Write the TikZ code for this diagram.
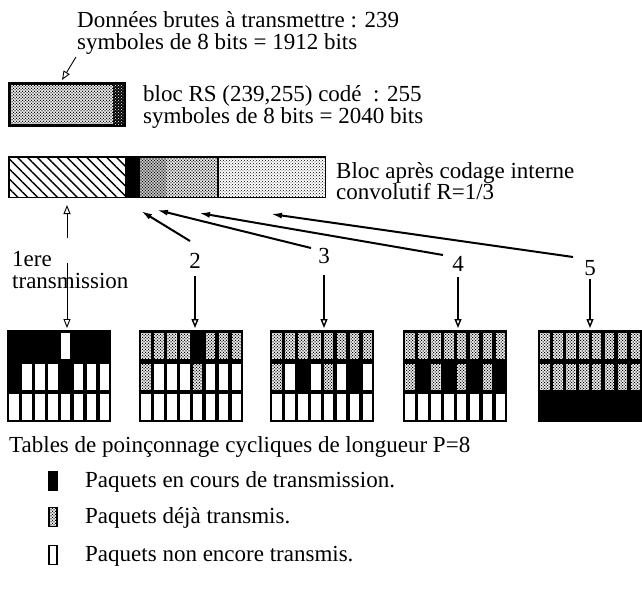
\documentclass[tikz,border=0pt]{standalone}
\usepackage{fontspec}
\setmainfont{Liberation Serif}
\usetikzlibrary{patterns,patterns.meta,arrows.meta}
\pgfdeclarepatternformonly{dotsL}{\pgfqpoint{-1pt}{-1pt}}{\pgfqpoint{3pt}{3pt}}{\pgfqpoint{3pt}{3pt}}{%
  \pgfpathcircle{\pgfqpoint{0pt}{0pt}}{0.5pt}\pgfpathcircle{\pgfqpoint{1.5pt}{1.5pt}}{0.5pt}\pgfusepath{fill}}
\pgfdeclarepatternformonly{dotsM}{\pgfqpoint{-1pt}{-1pt}}{\pgfqpoint{3pt}{3pt}}{\pgfqpoint{3pt}{3pt}}{%
  \pgfpathcircle{\pgfqpoint{0pt}{0pt}}{0.75pt}\pgfpathcircle{\pgfqpoint{1.5pt}{1.5pt}}{0.75pt}\pgfusepath{fill}}
\pgfdeclarepatternformonly{dotsD}{\pgfqpoint{-1pt}{-1pt}}{\pgfqpoint{3pt}{3pt}}{\pgfqpoint{3pt}{3pt}}{%
  \pgfpathcircle{\pgfqpoint{0pt}{0pt}}{0.95pt}\pgfpathcircle{\pgfqpoint{1.5pt}{1.5pt}}{0.95pt}\pgfusepath{fill}}
\newcommand{\prow}[2]{%
  \foreach \cv [count=\ci from 0] in {#2} {%
    \pgfmathsetmacro\xa{2.3+\ci*12.9}%
    \pgfmathsetmacro\ya{3+#1*30.5}%
    \ifnum\cv=1 \fill[white] (\xa,\ya) rectangle ++(9.5,26);\fi
    \ifnum\cv=2 \fill[white] (\xa,\ya) rectangle ++(9.5,26);
      \fill[pattern=dotsM] (\xa,\ya) rectangle ++(9.5,26);\fi
  }}
\newcommand{\pgrid}[5]{%
  \node[gridbox] (#1) at (#2,330) {};
  \begin{scope}[shift={(#1.north west)}]
    \prow{0}{#3}\prow{1}{#4}\prow{2}{#5}
  \end{scope}}
\begin{document}
\begin{tikzpicture}[x=1pt,y=-1pt,
  txt/.style={font=\fontsize{23}{22}\selectfont, inner sep=0pt, anchor=base west},
  lbl/.style={font=\fontsize{23}{22}\selectfont, inner sep=0pt, anchor=base},
  gridbox/.style={draw=none, fill=black, minimum width=104pt, minimum height=92pt, inner sep=0pt, anchor=north west},
  diag/.style={line width=2pt, -{Latex[length=11pt,width=6pt]}},
  downarr/.style={line width=1.4pt, -{Triangle[open,length=9pt,width=7pt]}},
  thinarr/.style={line width=0.9pt, -{Triangle[open,length=9pt,width=7pt]}},
  keybox/.style={draw, line width=1.6pt, minimum width=8pt, minimum height=19pt, inner sep=0pt},
  ]
\useasboundingbox (0,0) rectangle (642,615);
\fill[white] (0,0) rectangle (642,615);

% texts
\node[txt] (d1) at (77,28) {Données brutes à transmettre : 239};
\node[txt] (d2) at (77,50) {symboles de 8 bits = 1912 bits};
\node[txt] (r1) at (143,102) {bloc RS (239,255) codé~ : 255};
\node[txt] (r2) at (143,124) {symboles de 8 bits = 2040 bits};
\node[txt] (c1) at (336,178) {Bloc après codage interne};
\node[txt] (c2) at (336,199) {convolutif R=1/3};
\node[txt] (e1) at (12,266) {1ere};
\node[txt] (e2) at (12,288) {transmission};
\node[lbl] (n2) at (195,268) {2};
\node[lbl] (n3) at (324,263) {3};
\node[lbl] (n4) at (458,271) {4};
\node[lbl] (n5) at (590,275) {5};
\node[txt] (tab) at (9,452) {Tables de poinçonnage cycliques de longueur P=8};
\node[txt] (k1t) at (85,487) {Paquets en cours de transmission.};
\node[txt] (k2t) at (85,523) {Paquets déjà transmis.};
\node[txt] (k3t) at (85,561) {Paquets non encore transmis.};

% block 1 (RS)
\node[draw, line width=1.8pt, minimum width=114pt, minimum height=41pt, inner sep=0pt,
      anchor=north west, pattern=dotsM] (b1) at (9,83) {};
\fill[black] ([xshift=-12pt]b1.north east) rectangle (b1.south east);
\fill[pattern=dotsL, pattern color=white] ([xshift=-12pt]b1.north east) rectangle (b1.south east);
\draw[line width=1.8pt] (b1.north west) rectangle (b1.south east);

% block 2 (convolutional)
\node[minimum width=316pt, minimum height=40pt, inner sep=0pt, anchor=north west] (b2) at (9,157) {};
\begin{scope}[shift={(b2.north west)}]
  \fill[pattern={Lines[angle=-45,distance=7pt,line width=1.4pt]}] (0,0) rectangle (117,40);
  \fill[black] (117,0) rectangle (131,40);
  \fill[pattern=dotsD] (131,0) rectangle (157,40);
  \fill[pattern=dotsM] (157,0) rectangle (209,40);
  \fill[pattern=dotsL] (209,0) rectangle (316,40);
  \draw[line width=1.2pt] (117,0) -- (117,40) (209,0) -- (209,40);
\end{scope}
\draw[line width=1.8pt] (b2.north west) rectangle (b2.south east);

% puncturing tables
\pgrid{g1}{7}{0,0,0,0,1,0,0,0}{0,1,1,1,0,1,1,1}{1,1,1,1,1,1,1,1}
\pgrid{g2}{139}{2,2,2,2,0,2,2,2}{2,1,1,1,2,1,1,1}{1,1,1,1,1,1,1,1}
\pgrid{g3}{270}{2,2,2,2,2,2,2,2}{2,1,0,1,2,1,0,1}{1,1,1,1,1,1,1,1}
\pgrid{g4}{403}{2,2,2,2,2,2,2,2}{2,0,2,0,2,0,2,0}{1,1,1,1,1,1,1,1}
\pgrid{g5}{538}{2,2,2,2,2,2,2,2}{2,2,2,2,2,2,2,2}{0,0,0,0,0,0,0,0}

% arrows
\coordinate (p1) at (76,57);
\coordinate (p2) at (62,80);
\draw[thinarr] (p1) -- (p2);
\coordinate (u0) at (67,238);
\coordinate (u1) at (67,205);
\draw[thinarr] (u0) -- (u1);
\coordinate (v0) at (67,263);
\draw[thinarr, shorten >=2pt] (v0) -- (v0 |- g1.north);
\draw[downarr, shorten >=2pt] ([yshift=-8pt]n2.south) -- (n2.south |- g2.north);
\draw[downarr, shorten >=2pt] ([yshift=-12pt]n3.south) -- (n3.south |- g3.north);
\draw[downarr, shorten >=2pt] ([yshift=-6pt]n4.south) -- (n4.south |- g4.north);
\draw[downarr, shorten >=2pt] ([yshift=-4pt]n5.south) -- (n5.south |- g5.north);

\coordinate (s2) at (190,241); \coordinate (h2) at (141,211);
\coordinate (s3) at (311,248); \coordinate (h3) at (157,210);
\coordinate (s4) at (443,255); \coordinate (h4) at (199,213);
\coordinate (s5) at (573,257); \coordinate (h5) at (271,214);
\draw[diag] (s2) -- (h2);
\draw[diag] (s3) -- (h3);
\draw[diag] (s4) -- (h4);
\draw[diag] (s5) -- (h5);

% legend
\node[keybox, fill=black] (k1) at (53,481) {};
\node[keybox, pattern=dotsM] (k2) at (53,517) {};
\node[keybox, fill=white] (k3) at (53,555) {};
\end{tikzpicture}
\end{document}
